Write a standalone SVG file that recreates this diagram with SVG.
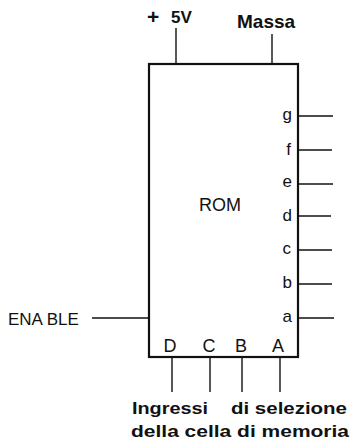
<svg xmlns="http://www.w3.org/2000/svg" width="354" height="441" viewBox="0 0 354 441">
<style>
.t{font-family:"Liberation Sans",Arial,sans-serif;fill:#111;}
.b{font-weight:bold;}
.w{stroke:#111;stroke-width:1.4;fill:none;}
.o{font-size:17px;text-anchor:end;}
.i{font-size:18px;text-anchor:middle;}
.f{font-size:16px;font-weight:bold;}
</style>
<rect width="354" height="441" fill="#fff"/>
<g id="rom">
<rect x="149" y="64" width="149" height="293" fill="none" stroke="#111" stroke-width="2.2"/>
<text class="t" x="220" y="211" font-size="18" text-anchor="middle">ROM</text>
<text class="t o" x="292" y="120">g</text>
<text class="t o" x="291" y="155">f</text>
<text class="t o" x="292" y="187">e</text>
<text class="t o" x="292" y="221">d</text>
<text class="t o" x="291" y="254">c</text>
<text class="t o" x="292" y="288">b</text>
<text class="t o" x="292" y="322">a</text>
<text class="t i" x="170" y="352">D</text>
<text class="t i" x="209" y="352">C</text>
<text class="t i" x="241" y="352">B</text>
<text class="t i" x="278" y="352">A</text>
</g>
<g id="labels">
<text class="t b" x="147" y="24" font-size="21">+</text>
<text class="t b" x="171" y="23" font-size="17">5V</text>
<text class="t b" x="237" y="28" font-size="19">Massa</text>
<text class="t" x="8" y="325" font-size="17">ENA BLE</text>
<text class="t f" x="132" y="414" textLength="76" lengthAdjust="spacingAndGlyphs">Ingressi</text>
<text class="t f" x="231" y="414" textLength="116" lengthAdjust="spacingAndGlyphs">di selezione</text>
<text class="t f" x="131" y="437" textLength="218" lengthAdjust="spacingAndGlyphs">della cella di memoria</text>
</g>
<g id="connectors" class="w">
<line x1="176" y1="28" x2="176" y2="64"/>
<line x1="272" y1="34" x2="272" y2="64"/>
<line x1="298" y1="116" x2="333" y2="116"/>
<line x1="298" y1="150" x2="332" y2="150"/>
<line x1="298" y1="184" x2="333" y2="184"/>
<line x1="298" y1="216" x2="331" y2="216"/>
<line x1="298" y1="250" x2="332" y2="250"/>
<line x1="298" y1="284" x2="332" y2="284"/>
<line x1="298" y1="318" x2="334" y2="318"/>
<line x1="92" y1="318" x2="149" y2="318"/>
<line x1="172" y1="357" x2="172" y2="392"/>
<line x1="210" y1="357" x2="210" y2="392"/>
<line x1="242" y1="357" x2="242" y2="392"/>
<line x1="280" y1="357" x2="280" y2="392"/>
</g>
</svg>
